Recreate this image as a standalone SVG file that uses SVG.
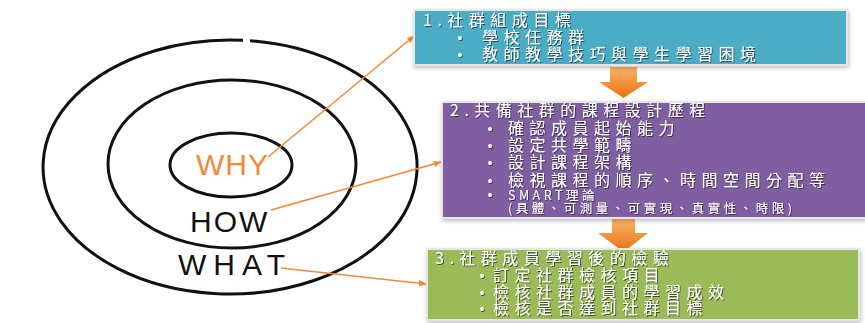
<svg xmlns="http://www.w3.org/2000/svg" width="865" height="323" viewBox="0 0 865 323">
<defs>
<style>
.ring{fill:none;stroke:#111;stroke-width:3}
.hand{font-family:"Liberation Sans",Arial,sans-serif;font-size:30px}
.box{stroke:#e6e6e6;stroke-width:2}
.t{font-family:"Noto Sans CJK TC","Noto Sans CJK SC",sans-serif;fill:#fff;font-size:16px;letter-spacing:5.5px}
.b{font-family:"Liberation Sans",Arial,sans-serif;fill:#fff;font-size:14px;text-anchor:middle}
.s{font-size:12.5px;letter-spacing:3.5px}
.con{fill:none;stroke:#ee8a3c;stroke-width:1.6}
</style>
<filter id="ts" x="-5%" y="-20%" width="110%" height="140%">
<feDropShadow dx="1" dy="1" stdDeviation="0.6" flood-color="#222" flood-opacity="0.7"/>
</filter>
<filter id="bs" x="-5%" y="-10%" width="110%" height="130%">
<feDropShadow dx="1" dy="2" stdDeviation="2" flood-color="#000" flood-opacity="0.25"/>
</filter>
<linearGradient id="og" x1="0" y1="0" x2="0" y2="1">
<stop offset="0" stop-color="#fbb36a"/>
<stop offset="1" stop-color="#e8720f"/>
</linearGradient>
<marker id="ah" viewBox="0 0 10 10" refX="9" refY="5" markerWidth="5" markerHeight="5" orient="auto">
<path d="M0,1 L10,5 L0,9 z" fill="#ee8a3c"/>
</marker>
</defs>
<rect width="865" height="323" fill="#fff"/>

<g id="circles">
<path class="ring" d="M250,40.73 A187,127 0 1,1 243,40.31"/>
<ellipse class="ring" cx="232" cy="164" rx="124" ry="84"/>
<ellipse class="ring" cx="231" cy="165" rx="61" ry="32"/>
</g>
<g id="why"><text class="hand" x="196" y="175" fill="#ef8a3a" letter-spacing="1">WHY</text></g>
<g id="how"><text class="hand" x="190" y="232" fill="#111" font-size="32" letter-spacing="2">HOW</text></g>
<g id="what"><text class="hand" x="178" y="275" fill="#111" font-size="28" letter-spacing="7">WHAT</text></g>

<g id="connectors">
<line class="con" x1="268" y1="157" x2="414" y2="36" marker-end="url(#ah)"/>
<line class="con" x1="271" y1="210" x2="441" y2="162" marker-end="url(#ah)"/>
<line class="con" x1="281" y1="268" x2="426" y2="284" marker-end="url(#ah)"/>
<path d="M610,67 H637 V82 H648 L623.5,98 L599,82 H610 z" fill="url(#og)"/>
<path d="M612,219 H635 V233 H648 L623.5,252 L598,233 H612 z" fill="url(#og)"/>
</g>

<g id="box1">
<rect class="box" x="414" y="10" width="433" height="55" fill="#4bacc6" filter="url(#bs)"/>
<g filter="url(#ts)">
<text class="t" x="423" y="26">1.社群組成目標</text>
<text class="b" x="460" y="43">•</text>
<text class="t" x="482" y="43">學校任務群</text>
<text class="b" x="460" y="60">•</text>
<text class="t" x="482" y="60">教師教學技巧與學生學習困境</text>
</g>
</g>

<g id="box2">
<rect class="box" x="442" y="102" width="424" height="116" fill="#7f5fa1" filter="url(#bs)"/>
<g filter="url(#ts)">
<text class="t" x="450" y="116">2.共備社群的課程設計歷程</text>
<text class="b" x="490" y="134">•</text>
<text class="t" x="508" y="134">確認成員起始能力</text>
<text class="b" x="490" y="151">•</text>
<text class="t" x="508" y="151">設定共學範疇</text>
<text class="b" x="490" y="168">•</text>
<text class="t" x="508" y="168">設計課程架構</text>
<text class="b" x="490" y="186">•</text>
<text class="t" x="508" y="186">檢視課程的順序、時間空間分配等</text>
<text class="b" x="490" y="200" font-size="11">•</text>
<text class="t s" x="508" y="200" letter-spacing="0.5">SMART理論</text>
<text class="t s" x="508" y="213">(具體、可測量、可實現、真實性、時限)</text>
</g>
</g>

<g id="box3">
<rect class="box" x="427" y="249" width="432" height="71" fill="#9bbb59" filter="url(#bs)"/>
<g filter="url(#ts)">
<text class="t" x="435" y="264">3.社群成員學習後的檢驗</text>
<text class="b" x="482" y="281">•</text>
<text class="t" x="493" y="281">訂定社群檢核項目</text>
<text class="b" x="482" y="298">•</text>
<text class="t" x="493" y="298">檢核社群成員的學習成效</text>
<text class="b" x="482" y="314">•</text>
<text class="t" x="493" y="314">檢核是否達到社群目標</text>
</g>
</g>
</svg>
